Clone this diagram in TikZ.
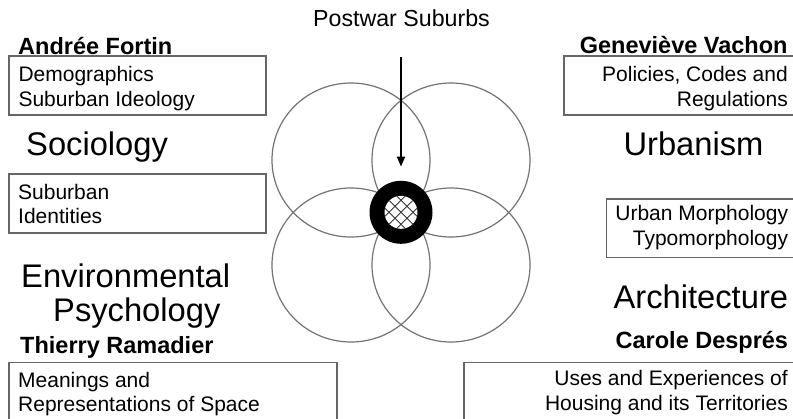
\documentclass[tikz,border=0pt]{standalone}
\usepackage{fontspec}
\setmainfont{Liberation Sans}
\usetikzlibrary{arrows.meta, positioning}

\begin{document}
\begin{tikzpicture}[x=1pt, y=-1pt,
    boxtext/.style={font=\fontsize{21}{24.3}\selectfont, inner sep=0pt},
    scholar/.style={font=\fontsize{23.5}{26}\selectfont\bfseries, inner sep=0pt},
    field/.style={font=\fontsize{32.7}{34.4}\selectfont, inner sep=0pt},
    frame/.style={draw=black!60, line width=1.4pt},
    petal/.style={draw=black!55, line width=1.2pt}]
  \useasboundingbox (0,0) rectangle (793,418);

  % four overlapping circles
  \foreach \cx/\cy in {351/160, 451/160, 351/265, 451/265}
    \draw[petal] (\cx,\cy) ellipse [x radius=79, y radius=77];

  % the core ring
  \node[circle, fill=black, minimum size=63pt, inner sep=0pt] (core) at (401,212.3) {};
  \fill[white] (core.center) circle (16.5);
  \begin{scope}[shift={(401,212.3)}]
    \clip (0,0) circle (16.5);
    \foreach \d in {-12,0,12} {
      \draw[black!80, line width=0.9pt] (\d-25,-25) -- (\d+25,25);
      \draw[black!80, line width=0.9pt] (\d-25,25) -- (\d+25,-25);
    }
  \end{scope}

  % title and arrow
  \node[font=\fontsize{23.2}{26}\selectfont, inner sep=0pt, anchor=base] (title) at (401.5,26.7) {Postwar Suburbs};
  \coordinate (arrtop) at (401,57);
  \draw[-{Triangle[length=10pt, width=8pt]}, line width=1.8pt] (arrtop) -- ([yshift=14pt]core.north);

  % frames
  \draw[frame] (9,56) rectangle (266,115);
  \draw[frame] (9,174) rectangle (266,233);
  \draw[frame] (9,430) |- (337,362.7) -- (337,430);
  \draw[frame] (800,56) -| (564,115) -- (800,115);
  \draw[frame] (800,199) -| (606.5,257.7) -- (800,257.7);
  \draw[frame] (800,362.5) -| (464,430);

  % left side (multi-line nodes sit on their last baseline)
  \node[scholar, anchor=base west] (fortin) at (18,54.3) {Andrée Fortin};
  \node[boxtext, anchor=base west, align=left] (demog) at (18.3,106) {Demographics\\Suburban Ideology};
  \node[field, anchor=base west] (socio) at (26,155) {Sociology};
  \node[boxtext, anchor=base west, align=left] (ident) at (18,223.3) {Suburban\\Identities};
  \node[field, anchor=base west, align=left] (envpsy) at (21,321.7) {Environmental\\\hspace*{32pt}Psychology};
  \node[scholar, anchor=base west] (ramadier) at (20,353.3) {Thierry Ramadier};
  \node[boxtext, anchor=base west, align=left] (meaning) at (18,411.7) {Meanings and\\Representations of Space};

  % right side
  \node[scholar, anchor=base east] (vachon) at (787.7,53.3) {Geneviève Vachon};
  \node[boxtext, anchor=base east, align=right] (policy) at (788,106) {Policies, Codes and\\Regulations};
  \node[field, anchor=base west] (urban) at (623.3,155.7) {Urbanism};
  \node[boxtext, anchor=base east, align=right] (morph) at (788.3,245) {Urban Morphology\\Typomorphology};
  \node[field, anchor=base east] (archi) at (788.3,308.3) {Architecture};
  \node[scholar, anchor=base east] (despres) at (788.3,348.3) {Carole Després};
  \node[boxtext, anchor=base east, align=right] (uses) at (788,410) {Uses and Experiences of\\Housing and its Territories};
\end{tikzpicture}
\end{document}
